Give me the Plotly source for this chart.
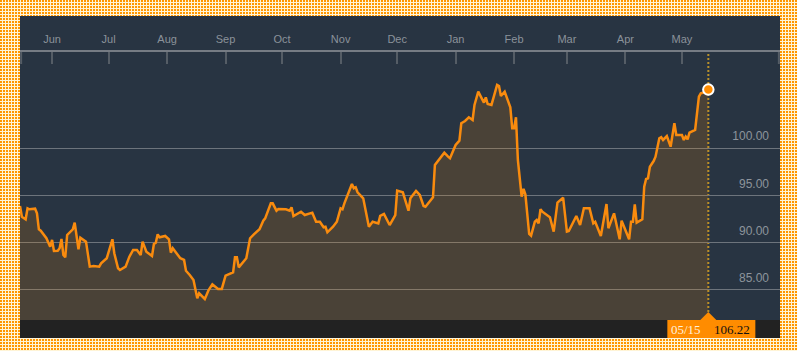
import base64
import struct
import zlib
import plotly.graph_objects as go

# ---------------- data ----------------
dates = [
    "2017-05-15", "2017-05-16", "2017-05-18", "2017-05-19", "2017-05-20", "2017-05-22", "2017-05-23",
    "2017-05-24", "2017-05-25", "2017-05-26", "2017-05-29", "2017-05-31",
    "2017-06-01", "2017-06-02", "2017-06-04", "2017-06-05", "2017-06-06", "2017-06-07", "2017-06-08",
    "2017-06-09", "2017-06-11", "2017-06-12", "2017-06-13", "2017-06-15", "2017-06-16", "2017-06-18",
    "2017-06-19", "2017-06-21", "2017-06-23", "2017-06-26", "2017-06-27", "2017-06-30",
    "2017-07-03", "2017-07-04", "2017-07-06", "2017-07-07", "2017-07-10", "2017-07-12", "2017-07-14",
    "2017-07-16", "2017-07-18", "2017-07-19", "2017-07-21", "2017-07-24", "2017-07-25", "2017-07-26",
    "2017-07-27", "2017-07-28", "2017-07-31",
    "2017-08-02", "2017-08-03", "2017-08-04", "2017-08-08", "2017-08-10", "2017-08-11", "2017-08-13",
    "2017-08-15", "2017-08-17", "2017-08-18", "2017-08-21", "2017-08-23", "2017-08-25", "2017-08-28",
    "2017-08-30",
    "2017-09-01", "2017-09-05", "2017-09-06", "2017-09-07", "2017-09-08", "2017-09-12", "2017-09-14",
    "2017-09-16", "2017-09-19", "2017-09-21", "2017-09-22", "2017-09-25", "2017-09-26", "2017-09-28",
    "2017-09-29",
    "2017-10-03", "2017-10-05", "2017-10-06", "2017-10-07", "2017-10-11", "2017-10-13", "2017-10-17",
    "2017-10-19", "2017-10-21", "2017-10-23", "2017-10-24", "2017-10-25", "2017-10-28", "2017-10-30",
    "2017-11-01", "2017-11-02", "2017-11-03", "2017-11-07", "2017-11-08", "2017-11-09", "2017-11-10",
    "2017-11-13", "2017-11-16", "2017-11-18", "2017-11-21", "2017-11-22", "2017-11-24", "2017-11-27",
    "2017-11-30",
    "2017-12-01", "2017-12-04", "2017-12-07", "2017-12-08", "2017-12-11", "2017-12-13", "2017-12-15",
    "2017-12-16", "2017-12-19", "2017-12-20", "2017-12-21", "2017-12-26", "2017-12-28", "2017-12-29",
    "2018-01-01", "2018-01-03", "2018-01-04", "2018-01-06", "2018-01-08", "2018-01-10", "2018-01-11",
    "2018-01-13", "2018-01-16", "2018-01-17", "2018-01-18", "2018-01-20", "2018-01-23", "2018-01-24",
    "2018-01-25", "2018-01-27", "2018-01-30", "2018-01-31",
    "2018-02-01", "2018-02-02", "2018-02-03", "2018-02-05", "2018-02-06", "2018-02-07", "2018-02-09",
    "2018-02-10", "2018-02-12", "2018-02-13", "2018-02-14", "2018-02-15", "2018-02-16", "2018-02-20",
    "2018-02-22", "2018-02-24", "2018-02-27",
    "2018-03-01", "2018-03-02", "2018-03-06", "2018-03-08", "2018-03-10", "2018-03-13", "2018-03-15",
    "2018-03-16", "2018-03-19", "2018-03-22", "2018-03-23", "2018-03-26", "2018-03-29", "2018-03-30",
    "2018-04-03", "2018-04-04", "2018-04-05", "2018-04-06", "2018-04-07", "2018-04-10", "2018-04-11",
    "2018-04-12", "2018-04-13", "2018-04-14", "2018-04-16", "2018-04-17", "2018-04-19", "2018-04-20",
    "2018-04-21", "2018-04-23", "2018-04-25", "2018-04-27", "2018-04-28",
    "2018-05-01", "2018-05-02", "2018-05-03", "2018-05-04", "2018-05-05", "2018-05-07", "2018-05-08",
    "2018-05-10", "2018-05-11", "2018-05-13", "2018-05-15",
]

prices = [
    93.89, 92.75, 92.48, 93.64, 93.54, 93.54, 93.60,
    93.11, 91.42, 91.27, 90.47, 89.58,
    90.29, 89.12, 89.15, 89.41, 90.39, 88.70, 88.45,
    90.82, 91.17, 91.42, 92.12, 89.30, 90.53, 90.29,
    90.11, 87.46, 87.53, 87.46, 87.82, 88.35,
    90.36, 88.88, 87.29, 87.11, 87.46, 88.52, 89.23,
    89.23, 88.70, 90.11, 89.05, 88.59, 89.86, 90.00,
    90.89, 90.57, 90.71,
    90.36, 88.94, 89.41, 88.35, 88.17, 87.03, 86.58,
    86.05, 84.11, 84.64, 84.04, 84.99, 85.59, 85.10,
    85.10,
    86.50, 86.86, 88.45, 88.45, 87.39, 88.35, 90.47,
    90.89, 91.42, 92.33, 92.58, 94.17, 94.17, 93.39,
    93.57,
    93.54, 93.39, 93.75, 92.83, 93.28, 92.93, 93.18,
    92.22, 92.22, 91.63, 91.69, 91.10, 91.69, 92.22,
    93.64, 93.54, 94.17, 96.22, 95.76, 95.87, 95.34,
    94.70, 91.69, 92.22, 92.05, 92.83, 93.04, 91.87,
    92.93,
    95.51, 95.34, 93.39, 94.70, 95.48, 95.05, 93.89,
    93.81, 94.63, 94.81, 98.23, 99.53, 99.11, 98.94,
    100.35, 100.81, 102.65, 102.89, 103.28, 103.00, 104.59,
    106.00, 104.83, 105.40, 104.69, 104.59, 106.71, 106.60,
    105.54, 106.00, 104.34, 102.12,
    102.12, 103.28, 98.76, 94.87, 95.70, 95.10, 90.92,
    90.74, 92.22, 92.40, 92.05, 93.54, 93.28, 92.69,
    91.17, 94.24, 94.77,
    91.17, 91.24, 92.83, 91.87, 93.64, 93.64, 92.05,
    92.22, 90.71, 94.10, 91.53, 93.11, 90.36, 92.33,
    90.36, 92.22, 92.22, 94.07, 92.12, 92.48, 95.93,
    96.75, 96.82, 98.05, 98.65, 99.11, 101.06, 101.17,
    100.88, 101.30, 100.17, 102.65, 101.41,
    101.41, 100.88, 101.23, 100.95, 101.65, 101.86, 101.94,
    105.47, 105.83, 105.93, 106.22,
]

y_ticks = [85, 90, 95, 100]
x_range = ["2017-05-15", "2018-06-22"]
y_range = [81.81, 110.2]
last_label = "05/15"
last_value_text = "106.22"

# ---------------- styling ----------------
W, H = 797, 351
ML, MR, MT, MB = 20, 17, 52, 31
NAVY = "#283442"
ORANGE = "#f98b0e"


def make_border_png(w, h, panel):
    """Dotted yellow/orange frame, transparent where the dark panel sits."""
    x0, y0, x1, y1 = panel
    orange = bytes((255, 150, 0, 255))
    light = bytes((255, 244, 214, 255))
    clear = bytes((0, 0, 0, 0))
    rows = []
    for y in range(h):
        row = bytearray(b"\x00")
        for x in range(w):
            if x0 <= x < x1 and y0 <= y < y1:
                row += clear
            elif (x % 3 < 2) and (y % 3 < 2):
                row += orange
            else:
                row += light
        rows.append(bytes(row))
    raw = b"".join(rows)

    def chunk(t, d):
        return struct.pack(">I", len(d)) + t + d + struct.pack(">I", zlib.crc32(t + d) & 0xFFFFFFFF)

    png = (b"\x89PNG\r\n\x1a\n"
           + chunk(b"IHDR", struct.pack(">IIBBBBB", w, h, 8, 6, 0, 0, 0))
           + chunk(b"IDAT", zlib.compress(raw, 9))
           + chunk(b"IEND", b""))
    return "data:image/png;base64," + base64.b64encode(png).decode()


border_src = make_border_png(W, H, (20, 16, 780, 338))
pw = W - ML - MR
ph = H - MT - MB

fig = go.Figure()
fig.add_trace(go.Scatter(
    x=dates, y=prices, mode="lines",
    line=dict(color=ORANGE, width=2.5),
    fill="tozeroy", fillcolor="rgba(255,140,0,0.16)",
    hoverinfo="skip", showlegend=False,
))
fig.add_trace(go.Scatter(
    x=[dates[-1]], y=[prices[-1]], mode="markers",
    marker=dict(color="#ff8c00", size=10.5, line=dict(color="white", width=2)),
    hoverinfo="skip", showlegend=False, cliponaxis=False,
))

shapes = [
    # bottom dark strip
    dict(type="rect", xref="paper", yref="paper", ysizemode="pixel", yanchor=0,
         x0=0, x1=1, y0=-18, y1=0, fillcolor="#222222", line_width=0, layer="below"),
    # dotted marker line at last date
    dict(type="line", xref="x", yref="paper", x0=dates[-1], x1=dates[-1], y0=0, y1=1,
         line=dict(color="#b8902a", width=2, dash="2px,2px"), layer="below"),
    # edge ticks of the top axis
    dict(type="line", xref="paper", yref="paper", ysizemode="pixel", yanchor=1,
         x0=0.0015, x1=0.0015, y0=0, y1=-12, line=dict(color="#555d66", width=2)),
    dict(type="line", xref="paper", yref="paper", ysizemode="pixel", yanchor=1,
         x0=0.9985, x1=0.9985, y0=0, y1=-12, line=dict(color="#555d66", width=2)),
    # orange value box and pointer
    dict(type="rect", xref="x", yref="paper", xsizemode="pixel", ysizemode="pixel",
         xanchor=dates[-1], yanchor=0, x0=-41, x1=47, y0=-18, y1=0,
         fillcolor="#ff8c00", line_width=0, layer="above"),
    dict(type="path", xref="x", yref="paper", xsizemode="pixel", ysizemode="pixel",
         xanchor=dates[-1], yanchor=0, path="M -8,0 L 0,8 L 8,0 Z",
         fillcolor="#ff8c00", line_width=0, layer="above"),
]

annotations = [
    dict(x=dates[-1], y=0, xref="x", yref="paper", text=last_label, showarrow=False,
         xanchor="right", yanchor="middle", xshift=-5, yshift=-9,
         font=dict(family="Liberation Serif", size=13, color="#fff1dc")),
    dict(x=dates[-1], y=0, xref="x", yref="paper", text=last_value_text, showarrow=False,
         xanchor="left", yanchor="middle", xshift=4, yshift=-9,
         font=dict(family="Liberation Serif", size=13, color="#111111")),
]

fig.update_layout(
    width=W, height=H, autosize=False,
    margin=dict(l=ML, r=MR, t=MT, b=MB, pad=0),
    paper_bgcolor=NAVY, plot_bgcolor=NAVY,
    showlegend=False,
    shapes=shapes, annotations=annotations,
    images=[dict(source=border_src, xref="paper", yref="paper",
                 x=-ML / pw, y=(ph + MT) / ph, sizex=W / pw, sizey=H / ph,
                 xanchor="left", yanchor="top", sizing="stretch", layer="below")],
    xaxis=dict(
        type="date", range=x_range, side="top",
        dtick="M1", tick0="2017-06-01", tickformat="%b",
        ticks="inside", ticklen=12, tickwidth=2, tickcolor="#555d66",
        showline=True, linecolor="#767c84", linewidth=2,
        showgrid=False, zeroline=False, ticklabelstandoff=3,
        tickfont=dict(family="Liberation Sans", size=11, color="#8b929a"),
        fixedrange=True,
    ),
    yaxis=dict(
        range=y_range, side="right", tickvals=y_ticks, tickformat=".2f",
        ticks="", ticklabelposition="inside", ticklabelshift=-12, ticklabelstandoff=8,
        showgrid=True, gridcolor="#6d747c", gridwidth=1,
        zeroline=False, showline=False,
        tickfont=dict(family="Liberation Sans", size=12, color="#8d949c"),
        fixedrange=True,
    ),
)

fig.write_html("out.html", config={"displayModeBar": False})
